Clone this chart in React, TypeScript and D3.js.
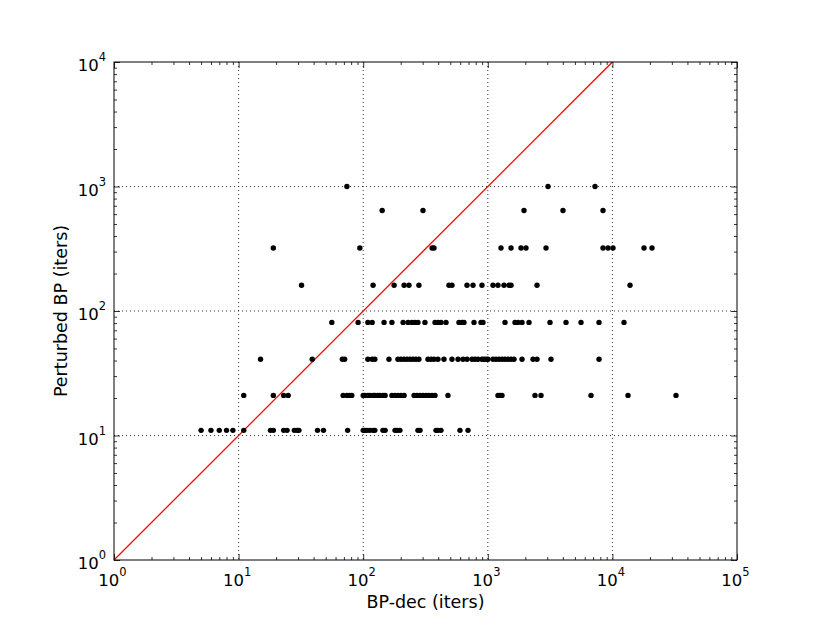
import * as d3 from "d3";
import { useEffect, useRef } from "react";

// BP-dec iterations, grouped by the perturbed BP iteration level they sit on
const perturbedLevels = [11, 21, 41, 81, 161, 321, 641, 1000];
const bpDecAt11 = [5, 6, 7, 8, 9, 11, 18, 19, 23, 24.5, 28, 29.5, 30.5, 43, 48, 75, 100, 103, 107, 113, 120, 124, 144, 150, 180, 187, 197, 275, 286, 384, 398, 421, 598, 694];
const bpDecAt21 = [11, 19, 23, 25, 69, 74, 78, 81, 100, 103, 109, 113, 120, 124, 131, 136, 144, 150, 170, 180, 190, 201, 213, 256, 270, 286, 302, 319, 337, 357, 377, 479, 1207, 1253, 1300, 2392, 2673, 6735, 13344, 32390];
const bpDecAt41 = [15, 39, 68, 71, 109, 118, 124, 161, 190, 201, 213, 225, 238, 251, 265, 280, 331, 350, 370, 398, 445, 516, 577, 632, 681, 747, 789, 834, 898, 932, 967, 1004, 1101, 1164, 1230, 1300, 1374, 1452, 1536, 1623, 1882, 2306, 2483, 3215, 7810];
const bpDecAt81 = [56, 91, 109, 118, 147, 170, 209, 229, 246, 260, 275, 313, 377, 398, 421, 462, 587, 621, 644, 775, 882, 915, 1374, 1653, 1747, 1882, 2142, 3156, 4242, 5598, 7810, 12391];
const bpDecAt161 = [32, 120, 177, 213, 233, 280, 488, 516, 681, 761, 898, 1101, 1207, 1349, 1480, 1536, 2483, 13846];
const bpDecAt321 = [19, 94, 357, 370, 1276, 1536, 1847, 2026, 2932, 8408, 9220, 10111, 17930, 20790];
const bpDecAt641 = [142, 302, 1952, 4013, 8408];
const bpDecAt1000 = [74, 3042, 7253];

const xDecades = [0, 1, 2, 3, 4, 5];
const yDecades = [0, 1, 2, 3, 4];
const diagonal = [1, 10000];

const xLabel = "BP-dec (iters)";
const yLabel = "Perturbed BP (iters)";

const FONT = "DejaVu Sans, sans-serif";

const minorTicks = (lo, hi) => {
    const out = [];
    for (let e = lo; e < hi; e++) {
        for (let m = 2; m <= 9; m++) out.push(m * Math.pow(10, e));
    }
    return out;
};

const App = () => {
    const ref = useRef(null);

    useEffect(() => {
        const svg = d3.select(ref.current);
        svg.selectAll("*").remove();

        const margin = { top: 62, left: 114, right: 93, bottom: 63 };
        const width = 830 - margin.left - margin.right;
        const height = 623 - margin.top - margin.bottom;

        const x = d3.scaleLog().domain([1, 1e5]).range([0, width]);
        const y = d3.scaleLog().domain([1, 1e4]).range([height, 0]);

        const rows = [bpDecAt11, bpDecAt21, bpDecAt41, bpDecAt81, bpDecAt161, bpDecAt321, bpDecAt641, bpDecAt1000];
        const points = rows.flatMap((xs, i) => xs.map(v => ({ x: v, y: perturbedLevels[i] })));

        const g = svg.append("g").attr("transform", `translate(${margin.left},${margin.top})`);

        // dotted grid on the major decades
        g.selectAll(".vgrid")
            .data(xDecades.slice(1, -1))
            .enter()
            .append("line")
            .attr("x1", d => x(Math.pow(10, d)))
            .attr("x2", d => x(Math.pow(10, d)))
            .attr("y1", 0)
            .attr("y2", height)
            .attr("stroke", "#000")
            .attr("stroke-width", 0.8)
            .attr("stroke-dasharray", "1,3");

        g.selectAll(".hgrid")
            .data(yDecades.slice(1, -1))
            .enter()
            .append("line")
            .attr("y1", d => y(Math.pow(10, d)))
            .attr("y2", d => y(Math.pow(10, d)))
            .attr("x1", 0)
            .attr("x2", width)
            .attr("stroke", "#000")
            .attr("stroke-width", 0.8)
            .attr("stroke-dasharray", "1,3");

        // ticks pointing inward on all four sides
        const xMajor = xDecades.map(d => Math.pow(10, d));
        const yMajor = yDecades.map(d => Math.pow(10, d));
        const xMinor = minorTicks(0, 5);
        const yMinor = minorTicks(0, 4);

        const tickAxis = (axis, values, size, transform) => {
            const a = g.append("g").attr("transform", transform);
            axis.tickValues(values).tickSize(size).tickSizeOuter(0).tickFormat(() => "")(a);
            a.select(".domain").remove();
            a.selectAll("line").attr("stroke", "#000").attr("stroke-width", 0.8);
        };
        tickAxis(d3.axisBottom(x), xMajor, -6, `translate(0,${height})`);
        tickAxis(d3.axisBottom(x), xMinor, -3, `translate(0,${height})`);
        tickAxis(d3.axisTop(x), xMajor, -6, "translate(0,0)");
        tickAxis(d3.axisTop(x), xMinor, -3, "translate(0,0)");
        tickAxis(d3.axisLeft(y), yMajor, -6, "translate(0,0)");
        tickAxis(d3.axisLeft(y), yMinor, -3, "translate(0,0)");
        tickAxis(d3.axisRight(y), yMajor, -6, `translate(${width},0)`);
        tickAxis(d3.axisRight(y), yMinor, -3, `translate(${width},0)`);

        // diagonal y = x
        g.append("path")
            .datum(diagonal)
            .attr("d", d3.line().x(d => x(d)).y(d => y(d)))
            .attr("stroke", "#ff0000")
            .attr("stroke-width", 1.3)
            .attr("fill", "none");

        g.selectAll("circle")
            .data(points)
            .enter()
            .append("circle")
            .attr("cx", d => x(d.x))
            .attr("cy", d => y(d.y))
            .attr("r", 2.7)
            .attr("fill", "#000");

        g.append("rect")
            .attr("width", width)
            .attr("height", height)
            .attr("fill", "none")
            .attr("stroke", "#000")
            .attr("stroke-width", 1);

        // tick labels as 10 with a superscript exponent
        const xl = g.selectAll(".xlab")
            .data(xDecades)
            .enter()
            .append("text")
            .attr("x", d => x(Math.pow(10, d)) - 1.5)
            .attr("y", height + 25.5)
            .attr("text-anchor", "middle")
            .attr("font-family", FONT)
            .attr("font-size", 16.5);
        xl.append("tspan").text("10");
        xl.append("tspan").attr("dy", -10).attr("font-size", 11.5).text(d => d);

        const yl = g.selectAll(".ylab")
            .data(yDecades)
            .enter()
            .append("text")
            .attr("x", -8)
            .attr("y", d => y(Math.pow(10, d)) + 9)
            .attr("text-anchor", "end")
            .attr("font-family", FONT)
            .attr("font-size", 16.5);
        yl.append("tspan").text("10");
        yl.append("tspan").attr("dy", -10).attr("font-size", 11.5).text(d => d);

        svg.append("text")
            .attr("x", margin.left + width / 2)
            .attr("y", 608)
            .attr("text-anchor", "middle")
            .attr("font-family", FONT)
            .attr("font-size", 17.5)
            .text(xLabel);

        svg.append("text")
            .attr("transform", `translate(67,${margin.top + height / 2}) rotate(-90)`)
            .attr("text-anchor", "middle")
            .attr("font-family", FONT)
            .attr("font-size", 17.5)
            .text(yLabel);
    }, []);

    return (
        <svg ref={ref} width="830" height="623"
            style={{ position: "absolute", left: 0, top: 0, background: "#fff" }} />
    );
};

export default App;
